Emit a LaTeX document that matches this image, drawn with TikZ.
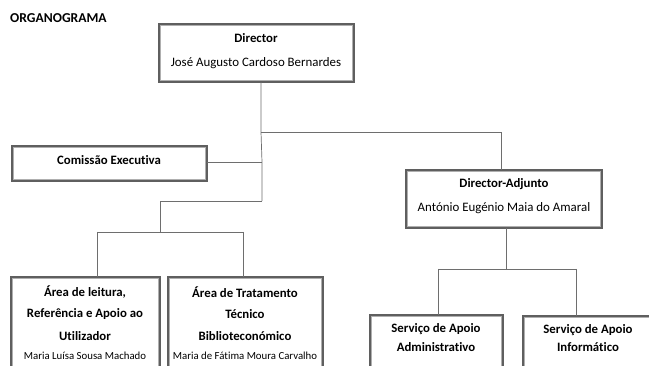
\documentclass[tikz,border=0pt]{standalone}
\usepackage{fontspec}
\setmainfont[Ligatures=NoCommon]{Carlito}
\usetikzlibrary{fit}
\definecolor{boxdark}{RGB}{95,95,95}
\definecolor{boxlight}{RGB}{175,175,175}
\definecolor{linec}{RGB}{110,110,110}
\tikzset{
  orgbox/.style={draw=boxdark, line width=2pt, inner sep=0pt, outer sep=0pt, fill=white},
  innerbox/.style={draw=boxlight, line width=0.8pt},
  conn/.style={draw=linec, line width=0.7pt},
  ttl/.style={font=\bfseries\fontsize{12.8}{14}\selectfont, inner sep=0pt, anchor=center},
  nm/.style={font=\fontsize{12.9}{14}\selectfont, inner sep=0pt, anchor=center},
  snm/.style={font=\fontsize{10.8}{12}\selectfont, inner sep=0pt, anchor=center},
}
\begin{document}
\begin{tikzpicture}[x=1pt,y=-1pt]
\useasboundingbox (0,0) rectangle (649,366);
\clip (0,0) rectangle (649,366);
\fill[white] (0,0) rectangle (649,366);

\node[font=\bfseries\fontsize{13.6}{15}\selectfont, anchor=west, inner sep=0pt] (title) at (10,18) {ORGANOGRAMA};

% boxes
\node[orgbox, fit={(159,24) (354,82)}] (dir) {};
\node[orgbox, fit={(12,146) (207,181)}] (com) {};
\node[orgbox, fit={(406,170) (602,228)}] (adj) {};
\node[orgbox, fit={(11,277) (160,390)}] (a1) {};
\node[orgbox, fit={(168,277) (323,390)}] (a2) {};
\node[orgbox, fit={(370,315) (503,390)}] (s1) {};
\node[orgbox, fit={(523,316) (660,390)}] (s2) {};
\foreach \n in {dir,com,adj,a1,a2,s1,s2}
  \draw[innerbox] ([shift={(1.6,1.6)}]\n.north west) rectangle ([shift={(-1.6,-1.6)}]\n.south east);

% texts
\node[ttl] (dirt) at (256,38) {Director};
\node[nm] (dirn) at (256,63) {José Augusto Cardoso Bernardes};
\node[ttl] (comt) at (109,160) {Comissão Executiva};
\node[ttl] (adjt) at (504,184) {Director-Adjunto};
\node[nm] (adjn) at (504,208) {António Eugénio Maia do Amaral};
\node[ttl] (a1t1) at (85,292) {Área de leitura,};
\node[ttl] (a1t2) at (85,314) {Referência e Apoio ao};
\node[ttl] (a1t3) at (85,336) {Utilizador};
\node[snm] (a1n) at (85,356) {Maria Luísa Sousa Machado};
\node[ttl] (a2t1) at (245,292) {Área de Tratamento};
\node[ttl] (a2t2) at (245,314) {Técnico};
\node[ttl] (a2t3) at (245,336) {Biblioteconómico};
\node[snm] (a2n) at (245,356) {Maria de Fátima Moura Carvalho};
\node[ttl] (s1t1) at (436,329) {Serviço de Apoio};
\node[ttl] (s1t2) at (436,347) {Administrativo};
\node[ttl] (s2t1) at (588,330) {Serviço de Apoio};
\node[ttl] (s2t2) at (588,347) {Informático};

% junctions
\coordinate (j1) at (261,132);
\coordinate (j2) at (262,162);
\coordinate (j3) at (262,201);
\coordinate (j4) at (160,201);
\coordinate (j5) at (160,232);
\coordinate (j6) at (97,232);
\coordinate (j7) at (243,232);
\coordinate (j8) at (501,132);
\coordinate (j9) at (506,269);
\coordinate (j10) at (438,269);
\coordinate (j11) at (576,269);

% connectors
\draw[conn] (dir.south -| j1) -- (j1) -- (j2) -- (j3);
\draw[conn] (j1) -- (j8) -- (adj.north -| j8);
\draw[conn] (com.east |- j2) -- (j2);
\draw[conn] (j3) -- (j4) -- (j5);
\draw[conn] (j6) -- (j7);
\draw[conn] (j6) -- (a1.north -| j6);
\draw[conn] (j7) -- (a2.north -| j7);
\draw[conn] (adj.south -| j9) -- (j9);
\draw[conn] (j10) -- (j11);
\draw[conn] (j10) -- (s1.north -| j10);
\draw[conn] (j11) -- (s2.north -| j11);
\end{tikzpicture}
\end{document}
